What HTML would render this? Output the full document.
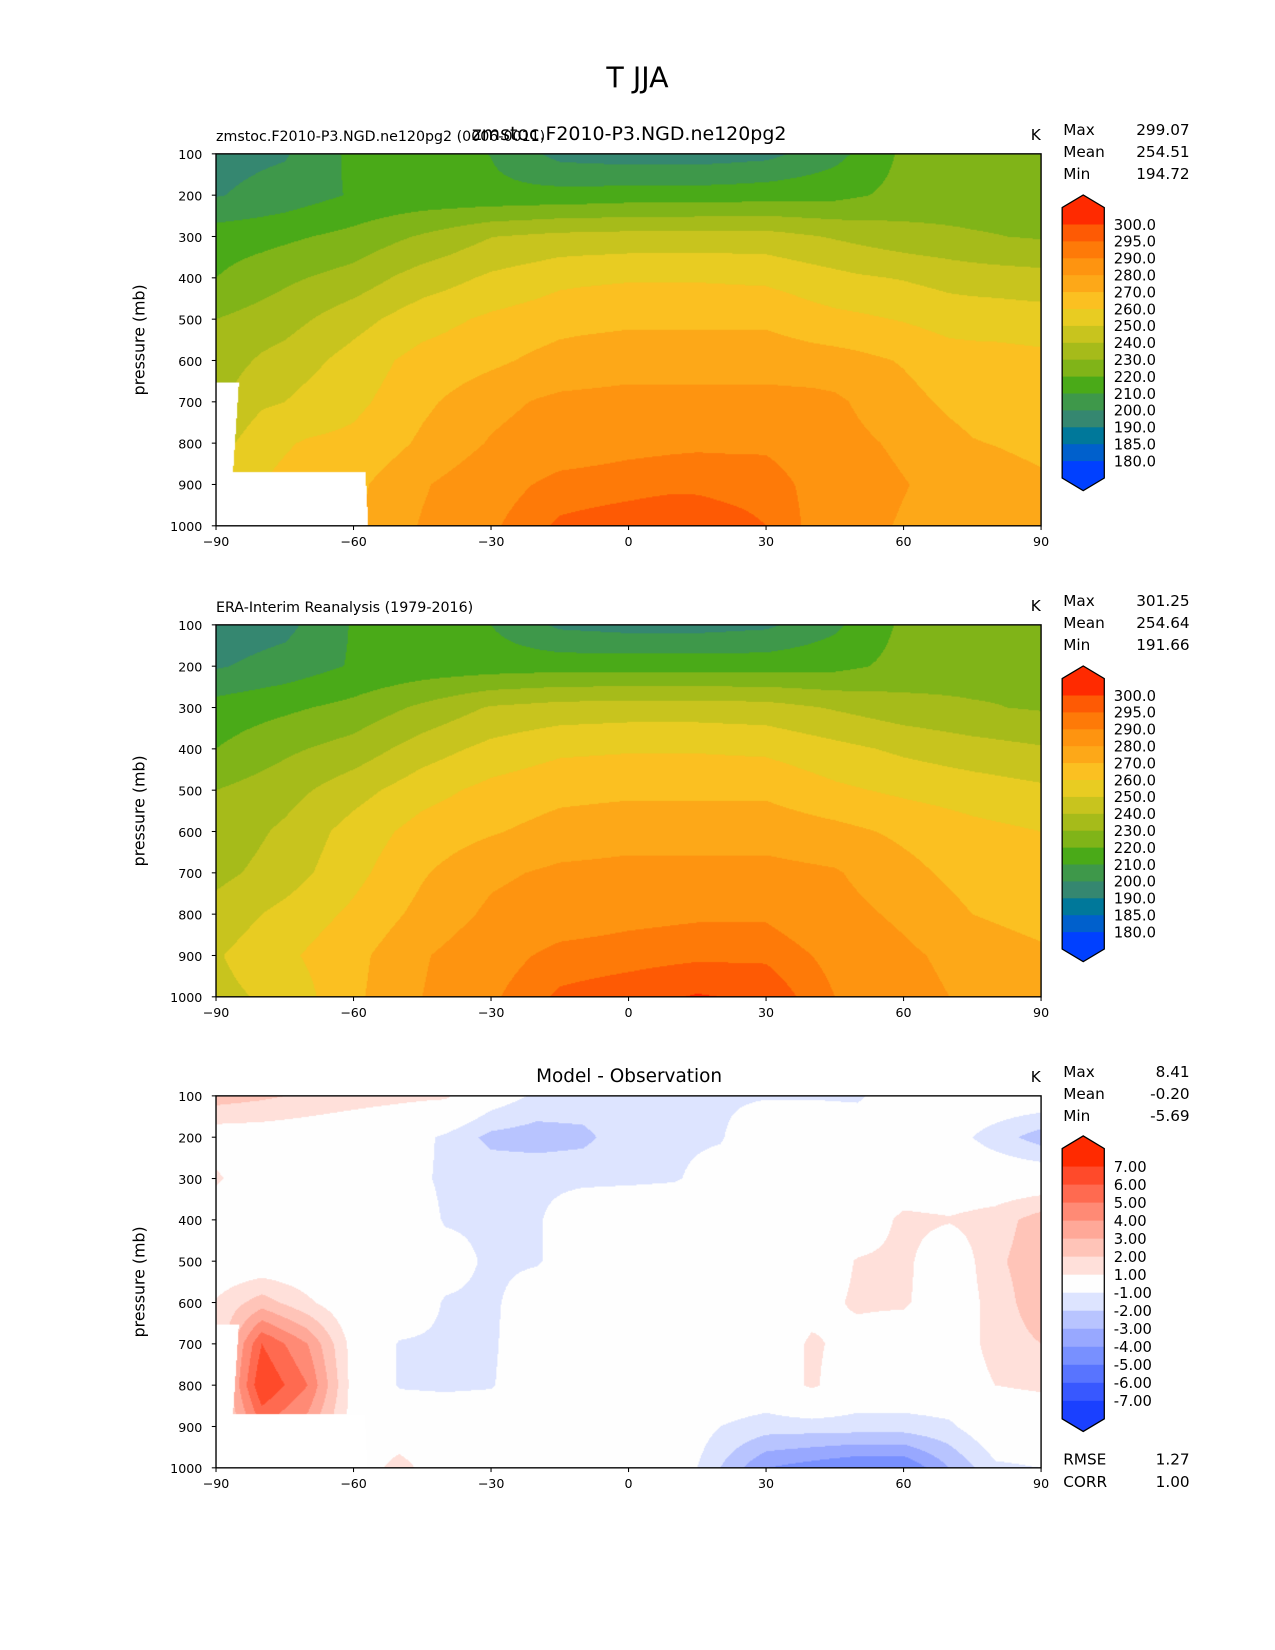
<!DOCTYPE html>
<html><head><meta charset="utf-8">
<style>
html,body{margin:0;padding:0;background:#fff;width:1275px;height:1650px;overflow:hidden}
#root{position:absolute;left:0;top:0;width:1210px;height:1566px;transform:scale(1.05372);transform-origin:0 0;font-family:"DejaVu Sans","Liberation Sans",sans-serif;color:#000}
.t{position:absolute;white-space:nowrap;line-height:1}
canvas{position:absolute}
</style></head>
<body>
<div id="root">
<div class="t" style="left:0;width:1210px;text-align:center;top:61px;font-size:27px">T JJA</div>
<svg id="svg" width="1210" height="1566" style="position:absolute;left:0;top:0"></svg>
</div>
<script>
// ---- data ----
const lats = [-90,-75,-60,-45,-30,-15,0,15,30,45,60,75,90];
const pressures = [100,200,300,400,500,600,700,800,900,1000];
const eraT = [
 [194,197,211,213,210,198,196,196,198,208,222,224,226],
 [199,204,211,214,215,216,216,216,216,217,223,226,229],
 [214,218,223,232,241,244,245,245,244,239,234,231,229],
 [220,228,234,245,253,258,259,259,258,253,248,244,241],
 [230,236,246,256,263,267,268,268,268,262,258,255,252],
 [233,242,254,264,269,274,276,276,276,273,268,263,260],
 [237,245,257,269,278,282,283,283,283,281,273,266,262],
 [244,253,262,273,282,286,288,289,289,284,278,270,266],
 [249,258,267,279,287,292,293,294,294,288,282,276,272],
 [247,253,268,280,289,296,298,300.5,299,290,284,278,275]
];
const diffLats = [-90,-80,-70,-60,-50,-40,-30,-20,-10,0,10,20,30,40,50,60,70,80,90];
const diffT = [
 [2.5,2.2,1.8,1.5,1.3,1.2,-0.3,-1.2,-1.3,-1.2,-1.2,-1.2,-1.1,-1.1,-1.2,0,0,0,0],
 [0.3,0.3,0.2,0,-0.3,-1.2,-2.3,-2.5,-2.3,-1.3,-1.2,-1.1,0,0,0,0,-0.5,-1.5,-2.5],
 [1.2,0,0,0,-0.5,-1.2,-1.3,-1.2,-1.2,-1.2,-1.1,-0.5,0,0,0,0,0,0,0],
 [0,0,0,0,0,-1.1,-1.2,-1.1,-0.3,0,0,0,0,0,0,1.3,1.1,1.5,2.5],
 [0,0,0,0,0,-0.5,-1.2,-1.1,-0.3,0,0,0,0,0,1.1,1.3,0,1.8,2.6],
 [1.1,2.5,1.2,0,0,-1.1,-1.2,-0.3,0,0,0,0,0,0.5,1.2,1.2,0,1.5,2.6],
 [1,6,4,0.5,-1.1,-1.2,-1.2,0,0,0,0,0,0,1.2,0.5,0,0,1.5,2],
 [1,7,5,0.5,-1.1,-1.2,-1.1,0,0,0,0,0,0,1.2,0,0,0,1,1.2],
 [1,5,3.5,0.5,0,0,0,0,0,0,0,-1,-1.5,-1.5,-1.5,-1.5,-1.2,0,0],
 [0,0,0,0,1.5,0,0,0,0,0,0,-2,-4,-4.5,-5,-5,-3,-1.2,-1]
];
const tLevels = [180,185,190,200,210,220,230,240,250,260,270,280,290,295,300];
const tColors = ["#0040ff","#0060cc","#00789a","#358770","#3e984a","#4aaa18","#80b418","#a6bb1a","#c8c41e","#e8cc22","#fbc021","#fda818","#fe9410","#fe7a08","#fe5a04","#ff2a00"];
const tLabels = ["180.0","185.0","190.0","200.0","210.0","220.0","230.0","240.0","250.0","260.0","270.0","280.0","290.0","295.0","300.0"];
const dLevels = [-7,-6,-5,-4,-3,-2,-1,1,2,3,4,5,6,7];
const dColors = ["#1a40ff","#3858ff","#5874ff","#7890ff","#98a8ff","#b8c4ff","#dde4ff","#fefefe","#ffe0da","#ffc4b8","#ffa898","#ff8a75","#ff6a50","#ff4a2a","#ff2a00"];
const dLabels = ["-7.00","-6.00","-5.00","-4.00","-3.00","-2.00","-1.00","1.00","2.00","3.00","4.00","5.00","6.00","7.00"];
const xTicks = [-90,-60,-30,0,30,60,90];
const xTickLabels = ["\u221290","\u221260","\u221230","0","30","60","90"];
const yTicks = [100,200,300,400,500,600,700,800,900,1000];
const stats1 = ["299.07","254.51","194.72"];
const stats2 = ["301.25","254.64","191.66"];
const stats3 = ["8.41","-0.20","-5.69"];
const extra3 = ["1.27","1.00"];

// ---- geometry ----
const PX0=205, PX1=988, PW=783, PH=353;
const panelTops=[146,593,1040];
const xScale = lat => PX0 + (lat+90)/180*PW;
const yScale = (p,top) => top + (p-100)/900*PH;
const svg=document.getElementById('svg');
const NS="http://www.w3.org/2000/svg";
function mk(tag,attrs,parent){const e=document.createElementNS(NS,tag);for(const k in attrs)e.setAttribute(k,attrs[k]);(parent||svg).appendChild(e);return e;}

function interp(latArr,grid,lat,p){
  let i=0;while(i<latArr.length-2&&lat>latArr[i+1])i++;
  let j=0;while(j<pressures.length-2&&p>pressures[j+1])j++;
  const fx=Math.min(1,Math.max(0,(lat-latArr[i])/(latArr[i+1]-latArr[i])));
  const fy=Math.min(1,Math.max(0,(p-pressures[j])/(pressures[j+1]-pressures[j])));
  const a=grid[j][i],b=grid[j][i+1],c=grid[j+1][i],d=grid[j+1][i+1];
  return a*(1-fx)*(1-fy)+b*fx*(1-fy)+c*(1-fx)*fy+d*fx*fy;
}
function classify(v,levels){let k=0;while(k<levels.length&&v>=levels[k])k++;return k;}
function hex(c){return [parseInt(c.slice(1,3),16),parseInt(c.slice(3,5),16),parseInt(c.slice(5,7),16)];}
function masked(lat,p){
  if(p>=870 && lat<-57.4+(p-870)/130*0.6) return true;
  const edge=-86.6+(p-653)/217*(-1.3);
  if(p>=653 && lat<edge+1.6 && lat< -85) return true;
  return false;
}
function drawField(top,kind,name){
  const cv=document.createElement('canvas');
  cv.width=PW;cv.height=PH;cv.style.left=PX0+'px';cv.style.top=top+'px';
  
  
  document.getElementById('root').insertBefore(cv,svg);
  const ctx=cv.getContext('2d');const img=ctx.createImageData(PW,PH);
  const tc=tColors.map(hex), dc=dColors.map(hex);
  for(let y=0;y<PH;y++){const p=100+(y+0.5)/PH*900;
    for(let x=0;x<PW;x++){const lat=-90+(x+0.5)/PW*180;
      let col;
      if(kind!=='obs' && masked(lat,p)) col=[255,255,255];
      else if(kind==='diff'){col=dc[classify(interp(diffLats,diffT,lat,p),dLevels)];}
      else {let v=interp(lats,eraT,lat,p); if(kind==='model') v+=interp(diffLats,diffT,lat,p); col=tc[classify(v,tLevels)];}
      const o=(y*PW+x)*4;img.data[o]=col[0];img.data[o+1]=col[1];img.data[o+2]=col[2];img.data[o+3]=255;}
  }
  ctx.putImageData(img,0,0);
}
drawField(panelTops[0],'model','model-contour-field');
drawField(panelTops[1],'obs','obs-contour-field');
drawField(panelTops[2],'diff','diff-contour-field');

function text(x,y,s,size,anchor,name){const t=mk('text',{x:x,y:y,'font-size':size,'text-anchor':anchor||'start','font-family':'DejaVu Sans, Liberation Sans, sans-serif'});t.textContent=s;return t;}

function axes(top,idx){
  const r=mk('rect',{x:PX0,y:top,width:PW,height:PH,fill:'none',stroke:'#000','stroke-width':1.3});
  
  
  xTicks.forEach((v,k)=>{const x=xScale(v);
    mk('line',{x1:x,x2:x,y1:top+PH,y2:top+PH+4,stroke:'#000'});
    text(x,top+PH+19,xTickLabels[k],12,'middle','x-tick-label');});
  yTicks.forEach(v=>{const y=yScale(v,top);
    mk('line',{x1:PX0-4,x2:PX0,y1:y,y2:y,stroke:'#000'});
    text(PX0-13,y+5,String(v),12,'end','y-tick-label');});
  const yt=text(0,0,'pressure (mb)',15,'middle','y-axis-title');
  yt.setAttribute('transform','translate(137,'+(top+PH/2)+') rotate(-90)');
  text(PX1-5,top-13,'K',14.5,'middle','units-label');
}
function statsBlock(top,vals){
  const names=['Max','Mean','Min'];
  names.forEach((n,k)=>{text(1009,top-18+21*k,n,14.5,'start','stat-name');text(1129,top-18+21*k,vals[k],14.5,'end','stat-value');});
}
function colorbar(tip,levels,colors,labels,bandH,name){
  const x0=1008,x1=1048,rt=tip+12;
  const n=colors.length;
  const rectTop=rt, bottom=rt+bandH*n;
  const g=mk('g',{});
  for(let k=0;k<n;k++){const c=colors[n-1-k];
    mk('rect',{x:x0,y:rectTop+k*bandH,width:x1-x0,height:bandH+0.6,fill:c},g);}
  mk('polygon',{points:`${x0},${rectTop+0.5} ${(x0+x1)/2},${tip} ${x1},${rectTop+0.5}`,fill:colors[n-1]},g);
  mk('polygon',{points:`${x0},${bottom-0.5} ${(x0+x1)/2},${bottom+12} ${x1},${bottom-0.5}`,fill:colors[0]},g);
  mk('polygon',{points:`${x0},${rectTop} ${(x0+x1)/2},${tip} ${x1},${rectTop} ${x1},${bottom} ${(x0+x1)/2},${bottom+12} ${x0},${bottom}`,fill:'none',stroke:'#000','stroke-width':1.2},g);
  levels.forEach((v,k)=>{const y=rectTop+bandH*(n-1-k);text(1057,y+5,labels[k],14,'start','colorbar-tick-label');});
}
axes(panelTops[0],1);axes(panelTops[1],2);axes(panelTops[2],3);
statsBlock(panelTops[0],stats1);statsBlock(panelTops[1],stats2);statsBlock(panelTops[2],stats3);
colorbar(185,tLevels,tColors,tLabels,16.04,'colorbar-temperature-1');
colorbar(632,tLevels,tColors,tLabels,16.04,'colorbar-temperature-2');
colorbar(1078,dLevels,dColors,dLabels,17.1,'colorbar-difference');
text(205,134,'zmstoc.F2010-P3.NGD.ne120pg2 (0006-0011)',13.5,'start','test-title-left');
text(597,133,'zmstoc.F2010-P3.NGD.ne120pg2',18,'middle','test-title-center');
text(205,581,'ERA-Interim Reanalysis (1979-2016)',13.5,'start','ref-title-left');
text(597,1027,'Model - Observation',17.5,'middle','diff-title-center');
text(1009,1390,'RMSE',14.5,'start','rmse-label');text(1129,1390,extra3[0],14.5,'end','rmse-value');
text(1009,1411,'CORR',14.5,'start','corr-label');text(1129,1411,extra3[1],14.5,'end','corr-value');
</script>
</body></html>
